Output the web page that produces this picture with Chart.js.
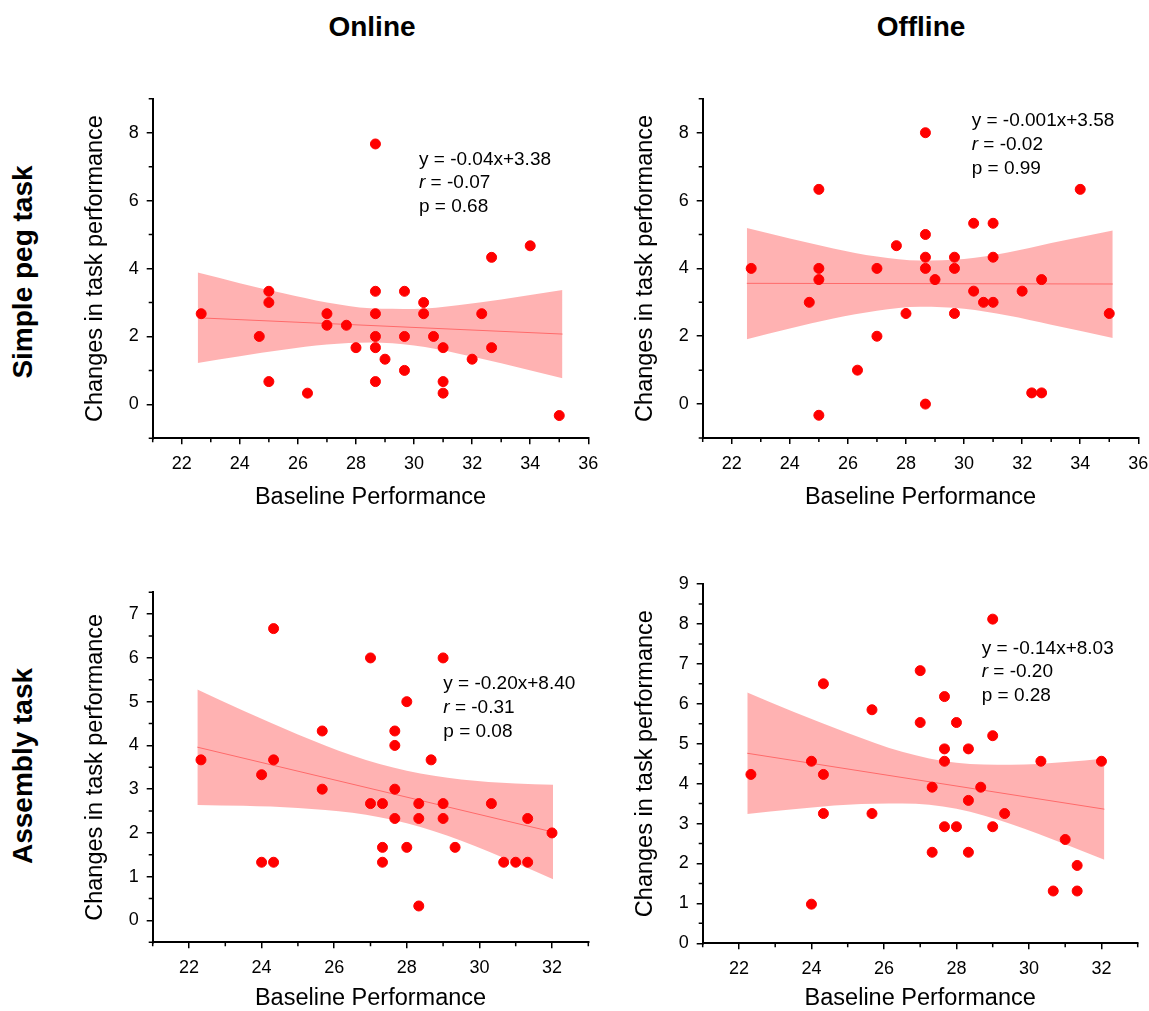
<!DOCTYPE html>
<html>
<head>
<meta charset="utf-8">
<script src="https://cdn.jsdelivr.net/npm/chart.js@4.4.0/dist/chart.umd.min.js"></script>
<style>
  body { margin: 0; width: 1149px; height: 1011px; background: #fff; position: relative; overflow: hidden;
         font-family: "Liberation Sans", Arial, sans-serif; color: #000; }
  canvas { position: absolute; }
  .col-title { position: absolute; font-weight: bold; font-size: 28px; line-height: 28px; transform: translateX(-50%); white-space: nowrap; }
  .row-title { position: absolute; font-weight: bold; font-size: 28px; line-height: 28px; white-space: nowrap;
               transform: translate(-50%, -50%) rotate(-90deg); }
  .stats { position: absolute; font-size: 19px; line-height: 23.7px; white-space: nowrap; }
</style>
</head>
<body>
<div class="col-title" style="left:372px; top:13px">Online</div>
<div class="col-title" style="left:921px; top:13px">Offline</div>
<div class="row-title" style="left:23px; top:272px">Simple peg task</div>
<div class="row-title" style="left:23px; top:766px">Assembly task</div>

<canvas id="pegOnline" width="540" height="440" style="left:70px; top:80px"></canvas>
<canvas id="pegOffline" width="540" height="440" style="left:620px; top:80px"></canvas>
<canvas id="asmOnline" width="540" height="441" style="left:70px; top:570px"></canvas>
<canvas id="asmOffline" width="540" height="451" style="left:620px; top:560px"></canvas>

<script>
// ---- Simple peg task, online ----
const pegOnlineX = [28.67, 32.67, 34.0, 25.0, 25.0, 22.67, 24.67, 25.0, 26.33, 27.0, 27.0, 27.67, 28.0, 28.67, 28.67, 28.67,
                    28.67, 28.67, 29.0, 29.67, 29.67, 29.67, 30.33, 30.33, 30.67, 31.0, 31.0, 31.0, 32.0, 32.33, 32.67, 35.0];
const pegOnlineY = [7.67, 4.33, 4.67, 3.33, 3.0, 2.67, 2.0, 0.67, 0.33, 2.67, 2.33, 2.33, 1.67, 3.33, 2.67, 2.0,
                    1.67, 0.67, 1.33, 3.33, 2.0, 1.0, 3.0, 2.67, 2.0, 1.67, 0.67, 0.33, 1.33, 2.67, 1.67, -0.33];
const pegOnlineBandX = [22.55, 24, 25.5, 27, 28.5, 30, 31.5, 33, 35.11];
const pegOnlineUpper = [3.88, 3.57, 3.27, 3.00, 2.83, 2.81, 2.92, 3.09, 3.37];
const pegOnlineLower = [1.22, 1.42, 1.61, 1.76, 1.82, 1.73, 1.50, 1.21, 0.77];
const pegOnlineFitX = [22.55, 35.11];
const pegOnlineFitY = [2.55, 2.07];
const pegOnlineStats = ['y = -0.04x+3.38', '-0.07', '0.68'];

// ---- Simple peg task, offline ----
const pegOfflineX = [28.67, 25.0, 34.0, 30.33, 31.0, 28.67, 27.67, 28.67, 29.67, 31.0, 22.67, 25.0, 27.0, 28.67, 29.67, 25.0,
                     29.0, 32.67, 24.67, 30.33, 30.67, 31.0, 32.0, 28.0, 29.67, 35.0, 27.0, 26.33, 28.67, 32.33, 32.67, 25.0];
const pegOfflineY = [8.0, 6.33, 6.33, 5.33, 5.33, 5.0, 4.67, 4.33, 4.33, 4.33, 4.0, 4.0, 4.0, 4.0, 4.0, 3.67,
                     3.67, 3.67, 3.0, 3.33, 3.0, 3.0, 3.33, 2.67, 2.67, 2.67, 2.0, 1.0, 0.0, 0.33, 0.33, -0.33];
const pegOfflineBandX = [22.52, 24, 25.5, 27, 28.5, 30, 31.5, 33, 35.12];
const pegOfflineUpper = [5.19, 4.88, 4.59, 4.35, 4.23, 4.28, 4.47, 4.75, 5.12];
const pegOfflineLower = [1.91, 2.23, 2.52, 2.75, 2.87, 2.81, 2.61, 2.34, 1.95];
const pegOfflineFitX = [22.52, 35.12];
const pegOfflineFitY = [3.56, 3.54];
const pegOfflineStats = ['y = -0.001x+3.58', '-0.02', '0.99'];

// ---- Assembly task, online ----
const asmOnlineX = [24.33, 27.0, 29.0, 28.0, 25.67, 27.67, 27.67, 22.33, 24.33, 28.67, 24.0, 25.67, 27.67, 27.0, 27.33, 28.33, 29.0,
                    30.33, 27.67, 28.33, 29.0, 31.33, 32.0, 27.33, 28.0, 29.33, 24.0, 24.33, 27.33, 30.67, 31.0, 31.33, 28.33];
const asmOnlineY = [6.67, 6.0, 6.0, 5.0, 4.33, 4.33, 4.0, 3.67, 3.67, 3.67, 3.33, 3.0, 3.0, 2.67, 2.67, 2.67, 2.67,
                    2.67, 2.33, 2.33, 2.33, 2.33, 2.0, 1.67, 1.67, 1.67, 1.33, 1.33, 1.33, 1.33, 1.33, 1.33, 0.33];
const asmOnlineBandX = [22.23, 23.5, 25, 26.5, 28, 29.5, 31, 32.03];
const asmOnlineUpper = [5.28, 4.79, 4.25, 3.77, 3.42, 3.22, 3.13, 3.10];
const asmOnlineLower = [2.64, 2.62, 2.57, 2.46, 2.22, 1.82, 1.31, 0.94];
const asmOnlineFitX = [22.23, 32.03];
const asmOnlineFitY = [3.96, 2.02];
const asmOnlineStats = ['y = -0.20x+8.40', '-0.31', '0.08'];

// ---- Assembly task, offline ----
const asmOfflineX = [29.0, 27.0, 24.33, 27.67, 25.67, 27.0, 28.0, 29.0, 27.67, 28.33, 24.0, 27.67, 30.33, 32.0, 22.33, 24.33,
                     27.33, 28.67, 28.33, 24.33, 25.67, 29.33, 27.67, 28.0, 29.0, 31.0, 27.33, 28.33, 31.33, 30.67, 31.33, 24.0];
const asmOfflineY = [8.12, 6.83, 6.50, 6.18, 5.85, 5.53, 5.53, 5.20, 4.87, 4.87, 4.56, 4.56, 4.56, 4.56, 4.23, 4.23,
                     3.91, 3.91, 3.58, 3.25, 3.25, 3.25, 2.92, 2.92, 2.92, 2.60, 2.28, 2.28, 1.95, 1.31, 1.31, 0.98];
const asmOfflineBandX = [22.23, 23.5, 25, 26.5, 28, 29.5, 31, 32.08];
const asmOfflineUpper = [6.28, 5.80, 5.27, 4.80, 4.52, 4.47, 4.54, 4.63];
const asmOfflineLower = [3.24, 3.36, 3.47, 3.50, 3.37, 2.99, 2.48, 2.09];
const asmOfflineFitX = [22.23, 32.08];
const asmOfflineFitY = [4.76, 3.36];
const asmOfflineStats = ['y = -0.14x+8.03', '-0.20', '0.28'];

// ---- axis ticks ----
const pegXTicks = [22, 24, 26, 28, 30, 32, 34, 36];
const pegXMinor = [21, 23, 25, 27, 29, 31, 33, 35];
const pegYTicks = [0, 2, 4, 6, 8];
const pegYMinor = [-1, 1, 3, 5, 7, 9];
const asmXTicks = [22, 24, 26, 28, 30, 32];
const asmXMinor = [21, 23, 25, 27, 29, 31, 33];
const asmOnlineYTicks = [0, 1, 2, 3, 4, 5, 6, 7];
const asmOnlineYMinor = [-0.5, 0.5, 1.5, 2.5, 3.5, 4.5, 5.5, 6.5, 7.5];
const asmOfflineYTicks = [0, 1, 2, 3, 4, 5, 6, 7, 8, 9];
const asmOfflineYMinor = [0.5, 1.5, 2.5, 3.5, 4.5, 5.5, 6.5, 7.5, 8.5];

const FONT = "'Liberation Sans', Arial, sans-serif";

const toPoints = (xs, ys) => xs.map((v, i) => ({ x: v, y: ys[i] }));

// short minor ticks, drawn through the chart's own scales
const minorTicks = {
  id: 'minorTicks',
  afterDraw(chart, args, opts) {
    const ctx = chart.ctx;
    const area = chart.chartArea;
    ctx.save();
    ctx.strokeStyle = '#000';
    ctx.lineWidth = 1.5;
    ctx.beginPath();
    opts.x.forEach(v => {
      const px = chart.scales.x.getPixelForValue(v);
      ctx.moveTo(px, area.bottom);
      ctx.lineTo(px, area.bottom + 4);
    });
    opts.y.forEach(v => {
      const py = chart.scales.y.getPixelForValue(v);
      ctx.moveTo(area.left, py);
      ctx.lineTo(area.left - 4, py);
    });
    ctx.stroke();
    ctx.restore();
  }
};

function axis(p, which) {
  const horiz = which === 'x';
  return {
    type: 'linear',
    min: p[which + 'Min'],
    max: p[which + 'Max'],
    afterBuildTicks: s => { s.ticks = p[which + 'Ticks'].map(v => ({ value: v })); },
    afterFit: s => { if (horiz) s.height = p.xAxisH; else s.width = p.yAxisW; },
    ticks: { autoSkip: false, maxRotation: 0, color: '#000', padding: horiz ? 9 : 8, font: { family: FONT, size: 18 } },
    grid: { drawOnChartArea: false, drawTicks: true, tickLength: 6, color: '#000', lineWidth: 1.5 },
    border: { display: true, color: '#000', width: 2 },
    title: {
      display: true,
      text: horiz ? 'Baseline Performance' : 'Changes in task performance',
      color: '#000',
      font: { family: FONT, size: 23.5, lineHeight: 1 },
      padding: horiz ? { top: 0, bottom: p.xTitlePad } : { top: 14.25, bottom: 0 }
    }
  };
}

function makePanel(id, p) {
  return new Chart(document.getElementById(id), {
    type: 'scatter',
    data: {
      datasets: [
        { data: toPoints(p.x, p.y), backgroundColor: '#ff0000', borderColor: '#ff0000', pointRadius: 5, order: 0 },
        { type: 'line', data: toPoints(p.fitX, p.fitY), borderColor: '#ff6a6a', borderWidth: 1, pointRadius: 0, fill: false, order: 1 },
        { type: 'line', data: toPoints(p.bandX, p.upper), borderColor: 'transparent', borderWidth: 0, pointRadius: 0,
          cubicInterpolationMode: 'monotone', fill: '+1', backgroundColor: 'rgba(255,0,0,0.3)', order: 2 },
        { type: 'line', data: toPoints(p.bandX, p.lower), borderColor: 'transparent', borderWidth: 0, pointRadius: 0,
          cubicInterpolationMode: 'monotone', fill: false, order: 3 }
      ]
    },
    options: {
      responsive: false,
      animation: false,
      layout: { padding: { top: p.padTop, right: p.padRight, left: 0, bottom: 0 } },
      plugins: {
        legend: { display: false },
        tooltip: { enabled: false },
        minorTicks: { x: p.xMinor, y: p.yMinor }
      },
      scales: { x: axis(p, 'x'), y: axis(p, 'y') }
    },
    plugins: [minorTicks]
  });
}

function addStats(stats, left, top) {
  const div = document.createElement('div');
  div.className = 'stats';
  div.style.left = left + 'px';
  div.style.top = top + 'px';
  div.innerHTML = stats[0] + '<br><i>r</i> = ' + stats[1] + '<br>p = ' + stats[2];
  document.body.appendChild(div);
}

makePanel('pegOnline', {
  x: pegOnlineX, y: pegOnlineY, bandX: pegOnlineBandX, upper: pegOnlineUpper, lower: pegOnlineLower,
  fitX: pegOnlineFitX, fitY: pegOnlineFitY,
  xMin: 21, xMax: 36, yMin: -1, yMax: 9, xTicks: pegXTicks, yTicks: pegYTicks, xMinor: pegXMinor, yMinor: pegYMinor,
  padTop: 7.3, padRight: 21.7, yAxisW: 82.7, xAxisH: 81.7, xTitlePad: 10.5
});
makePanel('pegOffline', {
  x: pegOfflineX, y: pegOfflineY, bandX: pegOfflineBandX, upper: pegOfflineUpper, lower: pegOfflineLower,
  fitX: pegOfflineFitX, fitY: pegOfflineFitY,
  xMin: 21, xMax: 36, yMin: -1, yMax: 9, xTicks: pegXTicks, yTicks: pegYTicks, xMinor: pegXMinor, yMinor: pegYMinor,
  padTop: 7.3, padRight: 21.7, yAxisW: 82.7, xAxisH: 82, xTitlePad: 10.5
});
makePanel('asmOnline', {
  x: asmOnlineX, y: asmOnlineY, bandX: asmOnlineBandX, upper: asmOnlineUpper, lower: asmOnlineLower,
  fitX: asmOnlineFitX, fitY: asmOnlineFitY,
  xMin: 21, xMax: 33, yMin: -0.5, yMax: 7.5, xTicks: asmXTicks, yTicks: asmOnlineYTicks, xMinor: asmXMinor, yMinor: asmOnlineYMinor,
  padTop: 22.3, padRight: 21.7, yAxisW: 82.7, xAxisH: 68.7, xTitlePad: 0.5
});
makePanel('asmOffline', {
  x: asmOfflineX, y: asmOfflineY, bandX: asmOfflineBandX, upper: asmOfflineUpper, lower: asmOfflineLower,
  fitX: asmOfflineFitX, fitY: asmOfflineFitY,
  xMin: 21, xMax: 33, yMin: 0, yMax: 9, xTicks: asmXTicks, yTicks: asmOfflineYTicks, xMinor: asmXMinor, yMinor: asmOfflineYMinor,
  padTop: 24, padRight: 22.3, yAxisW: 82.7, xAxisH: 67.7, xTitlePad: 0.5
});

addStats(pegOnlineStats, 419, 146.6);
addStats(pegOfflineStats, 971.7, 108.3);
addStats(asmOnlineStats, 443.3, 671.1);
addStats(asmOfflineStats, 981.7, 635.6);
</script>
</body>
</html>
